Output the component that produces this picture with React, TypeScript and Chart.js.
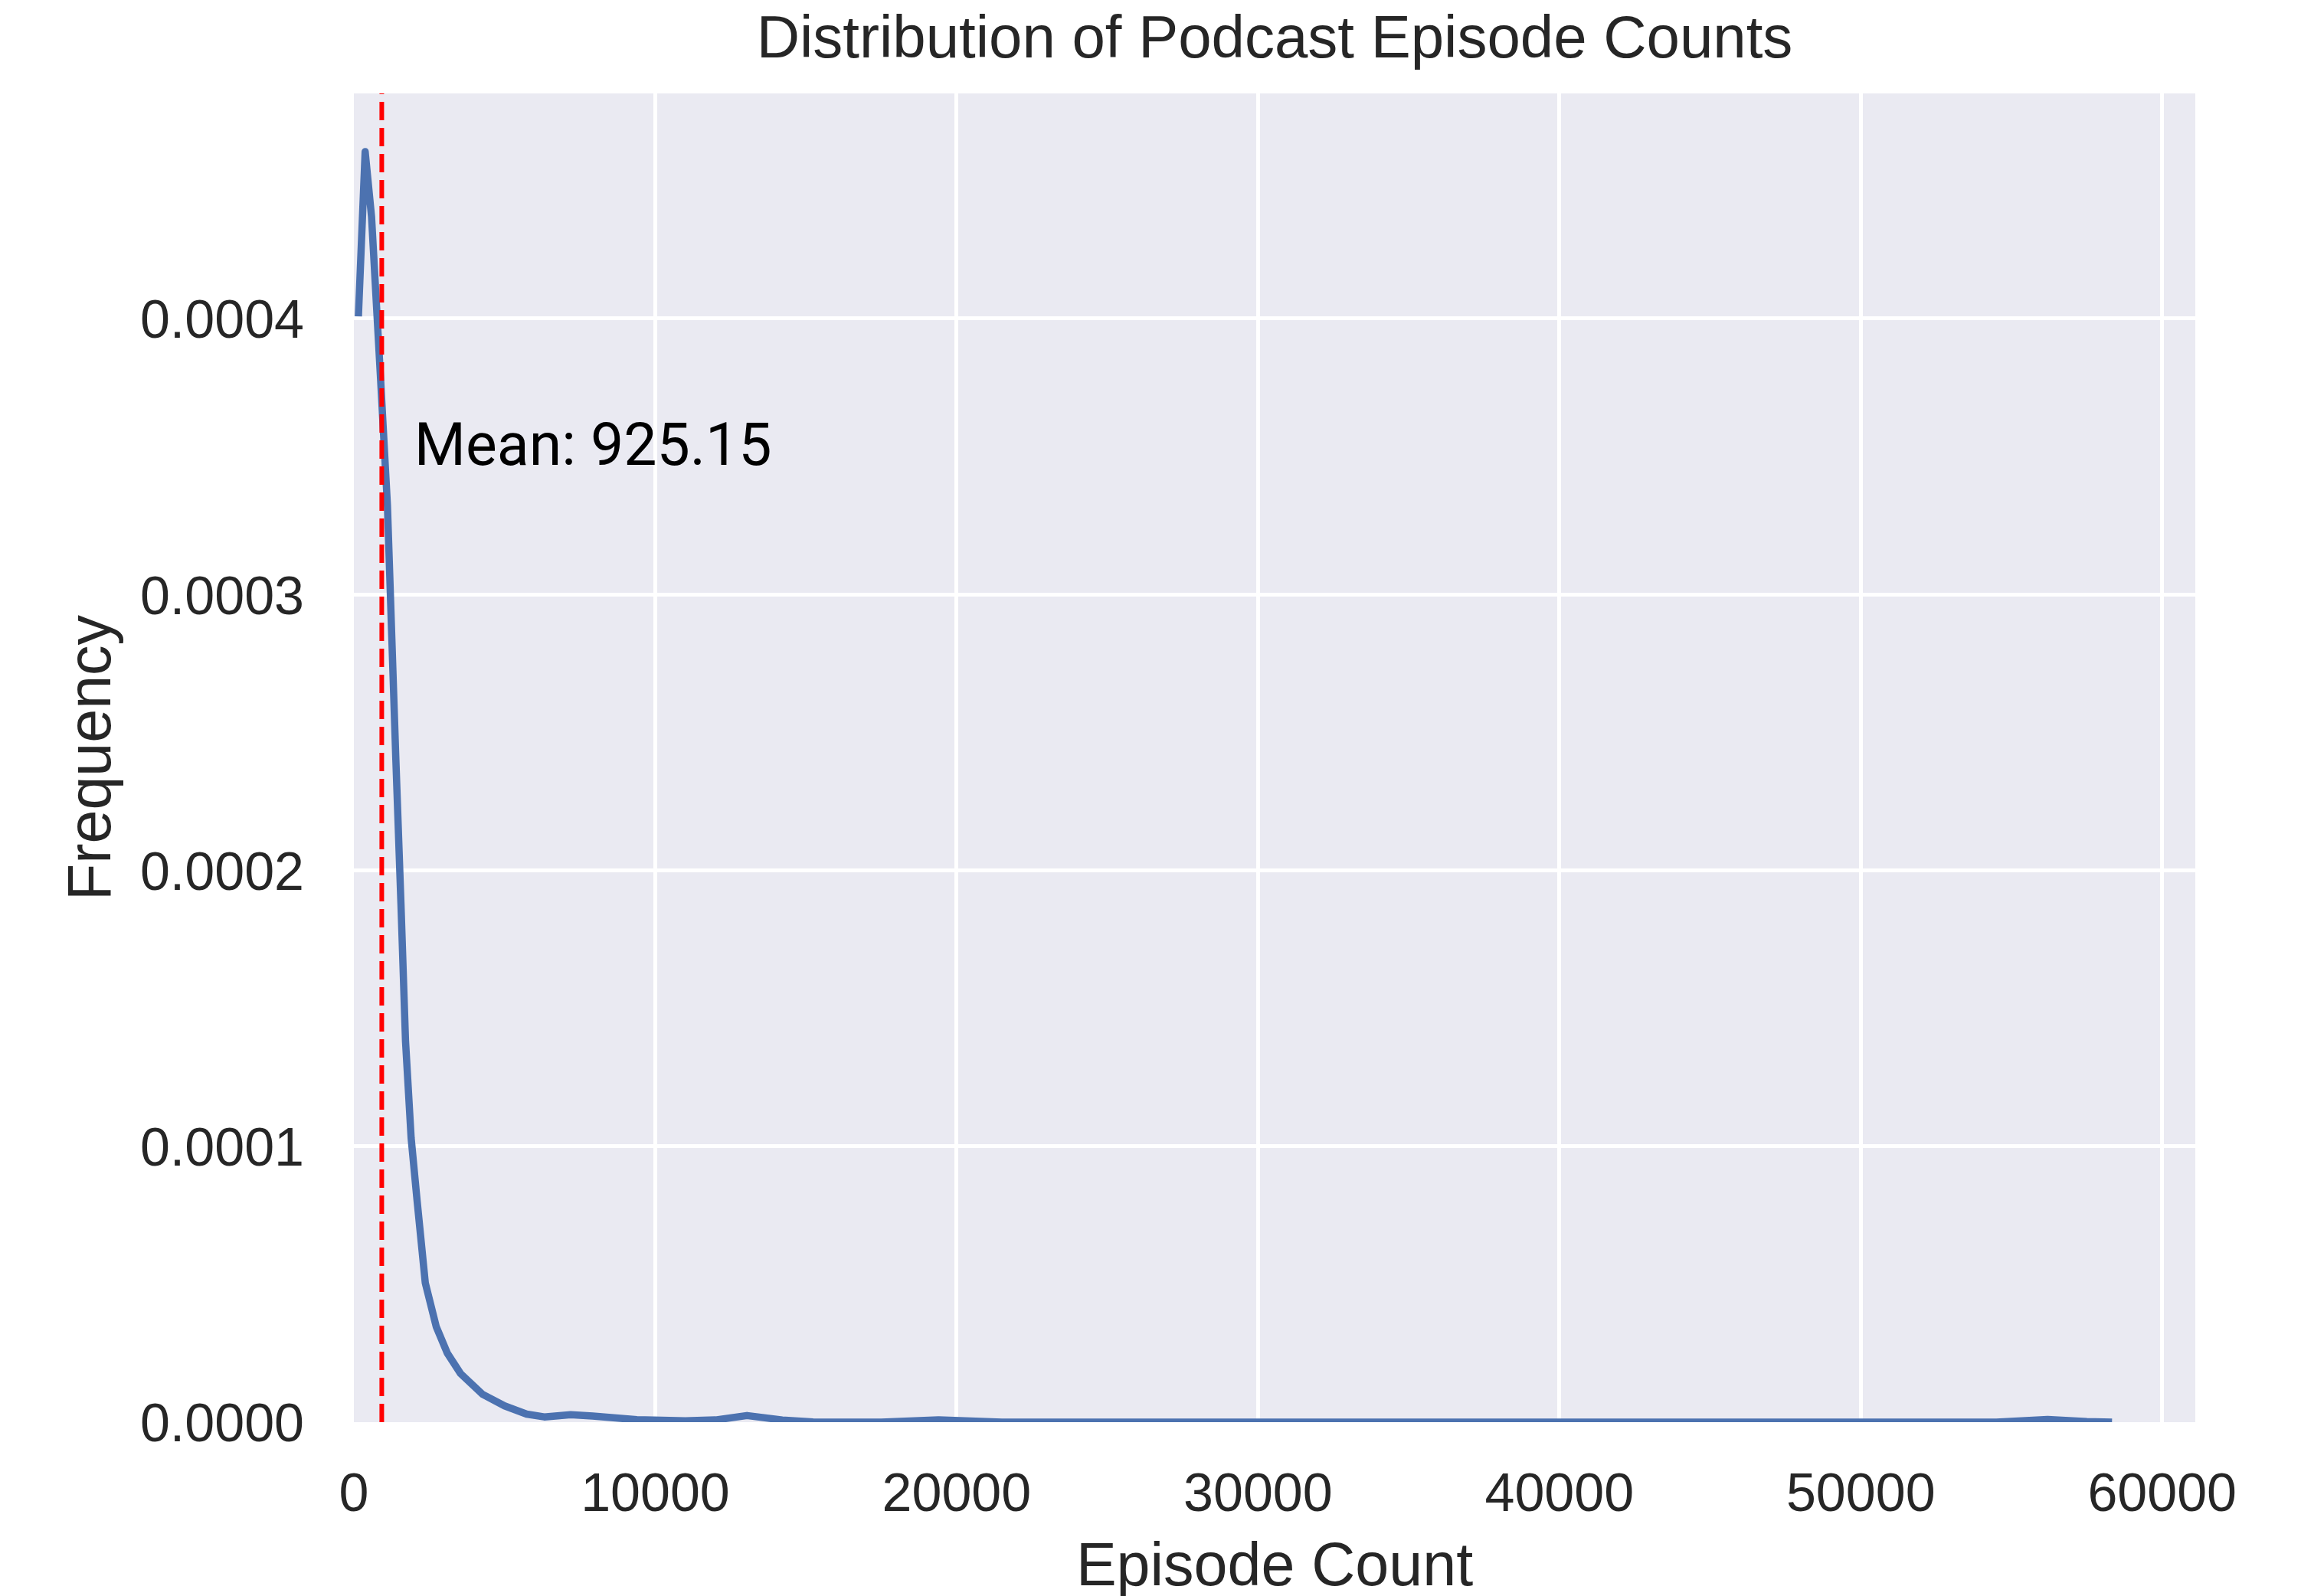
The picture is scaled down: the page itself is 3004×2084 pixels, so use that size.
import React, { useEffect, useRef } from "react";
import Chart from "chart.js/auto";

// KDE curve (episode count -> density)
const episodeCounts = [
    150, 374, 586, 884, 1113, 1393, 1562, 1714, 1900, 2100, 2369, 2733, 3100, 3541, 4270, 5001, 5732,
    6318, 7194, 7923, 9387, 10997, 12000, 13043, 14215, 15233, 17500, 19400, 21500, 30000, 40000,
    50000, 54500, 56200, 57500, 58336,
];
const frequencies = [
    0.0004008, 0.0004605, 0.0004369, 0.0003785, 0.0003323, 0.0002401, 0.0001879, 0.000138, 0.000103,
    0.00008, 0.0000505, 0.0000346, 0.000025, 0.0000176, 0.0000101, 0.0000059, 0.0000029, 0.0000019,
    0.0000027, 0.0000022, 0.0000009, 0.0000005, 0.0000008, 0.0000024, 0.0000008, 0.0000001, 0,
    0.0000008, 0, 0, 0, 0, 0, 0.000001, 0.0000002, 0,
];

const meanEpisodes = 925.15;
const meanLabelX = 2000;
const meanLabelY = 0.000347;

const xTicks = [0, 10000, 20000, 30000, 40000, 50000, 60000];
const yTicks = [0, 0.0001, 0.0002, 0.0003, 0.0004];
const xLimits = [0, 61100];
const yLimits = [0, 0.0004816];

const textColor = "#262626";
const labelFont = "Liberation Sans";

const plotBackground = {
    id: "plotBackground",
    beforeDraw(chart: any) {
        const { ctx, chartArea } = chart;
        ctx.save();
        ctx.fillStyle = "#EAEAF2";
        ctx.fillRect(chartArea.left, chartArea.top, chartArea.width, chartArea.height);
        ctx.restore();
    },
};

const meanLabel = {
    id: "meanLabel",
    afterDatasetsDraw(chart: any) {
        const { ctx, scales } = chart;
        const x = scales.x.getPixelForValue(meanLabelX);
        const y = scales.y.getPixelForValue(meanLabelY);
        ctx.save();
        ctx.font = "77px Roboto";
        ctx.fillStyle = "#000000";
        ctx.textAlign = "left";
        ctx.textBaseline = "alphabetic";
        ctx.fillText(`Mean: ${meanEpisodes.toFixed(2)}`, x, y);
        ctx.restore();
    },
};

const hideZeroGrid = (c: any) => (c.tick && c.tick.value === 0 ? "rgba(0,0,0,0)" : "#FFFFFF");

const App = () => {
    const canvasRef = useRef<HTMLCanvasElement | null>(null);

    useEffect(() => {
        const ctx = canvasRef.current?.getContext("2d") as CanvasRenderingContext2D;
        if (!ctx) return;

        const kdePoints = episodeCounts.map((x, i) => ({ x, y: frequencies[i] }));

        const chart = new Chart(ctx, {
            type: "line",
            data: {
                datasets: [
                    {
                        label: "Mean",
                        data: [
                            { x: meanEpisodes, y: yLimits[0] },
                            { x: meanEpisodes, y: yLimits[1] },
                        ],
                        borderColor: "#FF0000",
                        borderWidth: 6,
                        borderDash: [24, 10],
                        pointRadius: 0,
                        order: 0,
                    },
                    {
                        label: "Episode Count",
                        data: kdePoints,
                        borderColor: "#4C72B0",
                        borderWidth: 9.5,
                        borderJoinStyle: "round",
                        pointRadius: 0,
                        tension: 0,
                        clip: 0,
                        order: 1,
                    },
                ],
            },
            options: {
                animation: false,
                responsive: false,
                devicePixelRatio: 1,
                layout: { padding: { left: 0, right: 138, top: 0, bottom: 0 } },
                plugins: {
                    legend: { display: false },
                    tooltip: { enabled: false },
                    title: {
                        display: true,
                        text: "Distribution of Podcast Episode Counts",
                        fullSize: false,
                        color: textColor,
                        font: { family: labelFont, size: 78, weight: "normal", lineHeight: 1.2 },
                        padding: { top: 7, bottom: 21.4 },
                    },
                },
                scales: {
                    x: {
                        type: "linear",
                        min: xLimits[0],
                        max: xLimits[1],
                        border: { display: false },
                        grid: { color: hideZeroGrid, lineWidth: 5, drawTicks: false },
                        afterBuildTicks: (s: any) => {
                            s.ticks = xTicks.map((value) => ({ value }));
                        },
                        ticks: {
                            autoSkip: false,
                            maxRotation: 0,
                            padding: 54.4,
                            color: textColor,
                            font: { family: labelFont, size: 70 },
                            callback: (v: any) => String(v),
                        },
                        title: {
                            display: true,
                            text: "Episode Count",
                            color: textColor,
                            font: { family: labelFont, size: 79, lineHeight: 0.9 },
                            padding: { top: 0, bottom: 0 },
                        },
                        afterFit: (s: any) => {
                            s.height = 227;
                        },
                    },
                    y: {
                        type: "linear",
                        min: yLimits[0],
                        max: yLimits[1],
                        border: { display: false },
                        grid: { color: hideZeroGrid, lineWidth: 5, drawTicks: false },
                        afterBuildTicks: (s: any) => {
                            s.ticks = yTicks.map((value) => ({ value }));
                        },
                        ticks: {
                            autoSkip: false,
                            padding: 65,
                            labelOffset: 6,
                            color: textColor,
                            font: { family: labelFont, size: 70 },
                            callback: (v: any) => Number(v).toFixed(4),
                        },
                        title: {
                            display: true,
                            text: "Frequency",
                            color: textColor,
                            font: { family: labelFont, size: 79, lineHeight: 0.9 },
                            padding: { top: 87, bottom: 0 },
                        },
                        afterFit: (s: any) => {
                            s.width = 462;
                        },
                    },
                },
            },
            plugins: [plotBackground, meanLabel],
        });

        return () => {
            chart.destroy();
        };
    }, []);

    return (
        <div style={{ position: "fixed", left: 0, top: 0, width: 3004, height: 2084, background: "#FFFFFF" }}>
            <canvas ref={canvasRef} width={3004} height={2084} style={{ display: "block" }} />
        </div>
    );
};

export default App;
